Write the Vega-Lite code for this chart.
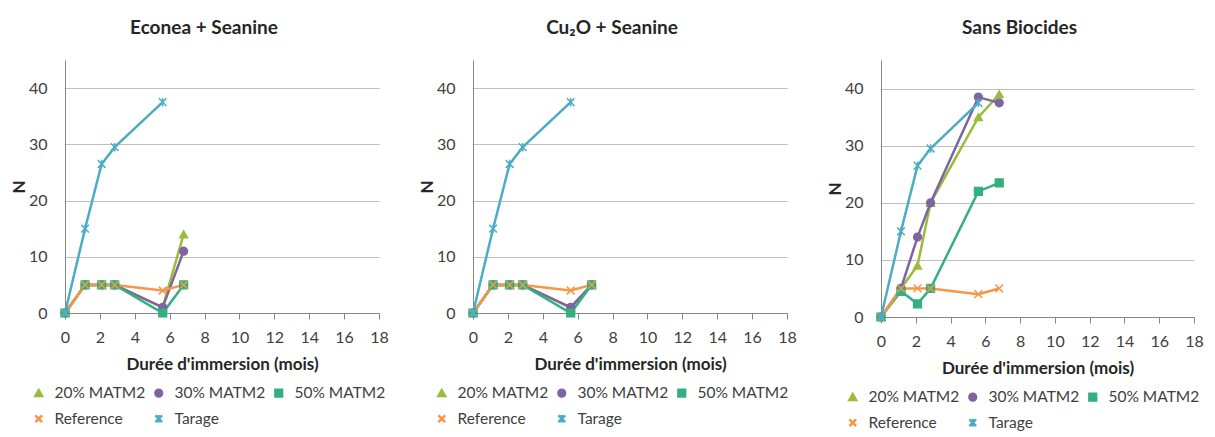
{
  "$schema": "https://vega.github.io/schema/vega-lite/v6.json",
  "background": "white",
  "padding": {"left": 10, "top": 19, "right": 5, "bottom": 5},
  "bounds": "flush",
  "spacing": 94,
  "config": {
    "font": "Lato",
    "view": {"stroke": null},
    "axis": {
      "labelFont": "Lato", "labelFontSize": 16, "labelColor": "#404040", "labelFlush": false,
      "titleFont": "Lato", "titleFontSize": 17, "titleFontWeight": "bold", "titleColor": "#262626",
      "domainColor": "#868686", "tickColor": "#868686", "gridColor": "#BFBFBF"
    },
    "legend": {"labelFont": "Lato", "labelFontSize": 15.5, "labelColor": "#404040", "columns": 3, "direction": "horizontal", "symbolSize": 45, "columnPadding": 4, "rowPadding": 8, "labelOffset": 8, "symbolStrokeWidth": 1.5, "orient": "none"},
    "title": {"font": "Lato", "fontSize": 19, "fontWeight": "bold", "color": "#262626"}
  },
  "datasets": {
    "d": [
      {"panel": "A", "series": "20% MATM2", "t": 0, "n": 0},
      {"panel": "A", "series": "20% MATM2", "t": 1.15, "n": 5},
      {"panel": "A", "series": "20% MATM2", "t": 2.1, "n": 5},
      {"panel": "A", "series": "20% MATM2", "t": 2.85, "n": 5},
      {"panel": "A", "series": "20% MATM2", "t": 5.6, "n": 1},
      {"panel": "A", "series": "20% MATM2", "t": 6.8, "n": 14},
      {"panel": "A", "series": "30% MATM2", "t": 0, "n": 0},
      {"panel": "A", "series": "30% MATM2", "t": 1.15, "n": 5},
      {"panel": "A", "series": "30% MATM2", "t": 2.1, "n": 5},
      {"panel": "A", "series": "30% MATM2", "t": 2.85, "n": 5},
      {"panel": "A", "series": "30% MATM2", "t": 5.6, "n": 1},
      {"panel": "A", "series": "30% MATM2", "t": 6.8, "n": 11},
      {"panel": "A", "series": "50% MATM2", "t": 0, "n": 0},
      {"panel": "A", "series": "50% MATM2", "t": 1.15, "n": 5},
      {"panel": "A", "series": "50% MATM2", "t": 2.1, "n": 5},
      {"panel": "A", "series": "50% MATM2", "t": 2.85, "n": 5},
      {"panel": "A", "series": "50% MATM2", "t": 5.6, "n": 0},
      {"panel": "A", "series": "50% MATM2", "t": 6.8, "n": 5},
      {"panel": "A", "series": "Reference", "t": 0, "n": 0},
      {"panel": "A", "series": "Reference", "t": 1.15, "n": 5},
      {"panel": "A", "series": "Reference", "t": 2.1, "n": 5},
      {"panel": "A", "series": "Reference", "t": 2.85, "n": 5},
      {"panel": "A", "series": "Reference", "t": 5.6, "n": 4},
      {"panel": "A", "series": "Reference", "t": 6.8, "n": 5},
      {"panel": "A", "series": "Tarage", "t": 0, "n": 0},
      {"panel": "A", "series": "Tarage", "t": 1.15, "n": 15},
      {"panel": "A", "series": "Tarage", "t": 2.1, "n": 26.5},
      {"panel": "A", "series": "Tarage", "t": 2.85, "n": 29.5},
      {"panel": "A", "series": "Tarage", "t": 5.6, "n": 37.5},

      {"panel": "B", "series": "20% MATM2", "t": 0, "n": 0},
      {"panel": "B", "series": "20% MATM2", "t": 1.15, "n": 5},
      {"panel": "B", "series": "20% MATM2", "t": 2.1, "n": 5},
      {"panel": "B", "series": "20% MATM2", "t": 2.85, "n": 5},
      {"panel": "B", "series": "20% MATM2", "t": 5.6, "n": 1},
      {"panel": "B", "series": "20% MATM2", "t": 6.8, "n": 5},
      {"panel": "B", "series": "30% MATM2", "t": 0, "n": 0},
      {"panel": "B", "series": "30% MATM2", "t": 1.15, "n": 5},
      {"panel": "B", "series": "30% MATM2", "t": 2.1, "n": 5},
      {"panel": "B", "series": "30% MATM2", "t": 2.85, "n": 5},
      {"panel": "B", "series": "30% MATM2", "t": 5.6, "n": 1},
      {"panel": "B", "series": "30% MATM2", "t": 6.8, "n": 5},
      {"panel": "B", "series": "50% MATM2", "t": 0, "n": 0},
      {"panel": "B", "series": "50% MATM2", "t": 1.15, "n": 5},
      {"panel": "B", "series": "50% MATM2", "t": 2.1, "n": 5},
      {"panel": "B", "series": "50% MATM2", "t": 2.85, "n": 5},
      {"panel": "B", "series": "50% MATM2", "t": 5.6, "n": 0},
      {"panel": "B", "series": "50% MATM2", "t": 6.8, "n": 5},
      {"panel": "B", "series": "Reference", "t": 0, "n": 0},
      {"panel": "B", "series": "Reference", "t": 1.15, "n": 5},
      {"panel": "B", "series": "Reference", "t": 2.1, "n": 5},
      {"panel": "B", "series": "Reference", "t": 2.85, "n": 5},
      {"panel": "B", "series": "Reference", "t": 5.6, "n": 4},
      {"panel": "B", "series": "Reference", "t": 6.8, "n": 5},
      {"panel": "B", "series": "Tarage", "t": 0, "n": 0},
      {"panel": "B", "series": "Tarage", "t": 1.15, "n": 15},
      {"panel": "B", "series": "Tarage", "t": 2.1, "n": 26.5},
      {"panel": "B", "series": "Tarage", "t": 2.85, "n": 29.5},
      {"panel": "B", "series": "Tarage", "t": 5.6, "n": 37.5},

      {"panel": "C", "series": "20% MATM2", "t": 0, "n": 0},
      {"panel": "C", "series": "20% MATM2", "t": 1.15, "n": 5},
      {"panel": "C", "series": "20% MATM2", "t": 2.1, "n": 9},
      {"panel": "C", "series": "20% MATM2", "t": 2.85, "n": 20},
      {"panel": "C", "series": "20% MATM2", "t": 5.6, "n": 35},
      {"panel": "C", "series": "20% MATM2", "t": 6.8, "n": 39},
      {"panel": "C", "series": "30% MATM2", "t": 0, "n": 0},
      {"panel": "C", "series": "30% MATM2", "t": 1.15, "n": 5},
      {"panel": "C", "series": "30% MATM2", "t": 2.1, "n": 14},
      {"panel": "C", "series": "30% MATM2", "t": 2.85, "n": 20},
      {"panel": "C", "series": "30% MATM2", "t": 5.6, "n": 38.5},
      {"panel": "C", "series": "30% MATM2", "t": 6.8, "n": 37.5},
      {"panel": "C", "series": "50% MATM2", "t": 0, "n": 0},
      {"panel": "C", "series": "50% MATM2", "t": 1.15, "n": 4.5},
      {"panel": "C", "series": "50% MATM2", "t": 2.1, "n": 2.3},
      {"panel": "C", "series": "50% MATM2", "t": 2.85, "n": 5},
      {"panel": "C", "series": "50% MATM2", "t": 5.6, "n": 22},
      {"panel": "C", "series": "50% MATM2", "t": 6.8, "n": 23.5},
      {"panel": "C", "series": "Reference", "t": 0, "n": 0},
      {"panel": "C", "series": "Reference", "t": 1.15, "n": 5},
      {"panel": "C", "series": "Reference", "t": 2.1, "n": 5},
      {"panel": "C", "series": "Reference", "t": 2.85, "n": 5},
      {"panel": "C", "series": "Reference", "t": 5.6, "n": 4},
      {"panel": "C", "series": "Reference", "t": 6.8, "n": 5},
      {"panel": "C", "series": "Tarage", "t": 0, "n": 0},
      {"panel": "C", "series": "Tarage", "t": 1.15, "n": 15},
      {"panel": "C", "series": "Tarage", "t": 2.1, "n": 26.5},
      {"panel": "C", "series": "Tarage", "t": 2.85, "n": 29.5},
      {"panel": "C", "series": "Tarage", "t": 5.6, "n": 37.5}
    ]
  },
  "resolve": {
    "scale": {"color": "independent", "stroke": "independent", "shape": "independent", "strokeWidth": "independent"},
    "legend": {"color": "independent", "stroke": "independent", "shape": "independent"}
  },
  "hconcat": [
    {
      "title": {"text": "Econea + Seanine", "anchor": "middle", "dx": -18, "offset": 22},
      "width": 314, "height": 253,
      "data": {"name": "d"},
      "transform": [{"filter": "datum.panel === 'A'"}],
      "encoding": {
        "x": {"field": "t", "type": "quantitative", "scale": {"domain": [0, 18], "nice": false},
              "axis": {"title": "Durée d'immersion (mois)", "values": [0,2,4,6,8,10,12,14,16,18], "grid": false, "tickSize": 6, "labelPadding": 10, "titlePadding": 11}},
        "y": {"field": "n", "type": "quantitative", "scale": {"domain": [0, 45], "nice": false},
              "axis": {"title": "N", "values": [0,10,20,30,40], "grid": true, "ticks": false, "labelPadding": 18, "titleX": -37}},
        "color": {"field": "series", "type": "nominal", "scale": {"domain": ["20% MATM2","30% MATM2","50% MATM2","Reference","Tarage"], "range": ["#9BBB3B","#8064A2","#33B07F","#F79646","#4BACC6"]},
                  "legend": {"title": null, "legendX": -34, "legendY": 325}}
      },
      "layer": [
        {
          "mark": {"type": "line"},
          "encoding": {
            "strokeWidth": {"field": "series", "type": "nominal", "scale": {"domain": ["20% MATM2","30% MATM2","50% MATM2","Reference","Tarage"], "range": [2.5,2.5,2.5,1.5,1.5]}, "legend": null}
          }
        },
        {
          "mark": {"type": "point", "filled": true, "size": 60, "strokeWidth": 1.5, "opacity": 1},
          "encoding": {
            "stroke": {"field": "series", "type": "nominal", "scale": {"domain": ["20% MATM2","30% MATM2","50% MATM2","Reference","Tarage"], "range": ["#9BBB3B","#8064A2","#33B07F","#F79646","#4BACC6"]},
                       "legend": {"title": null, "legendX": -34, "legendY": 325}},
            "shape": {"field": "series", "type": "nominal", "scale": {"domain": ["20% MATM2","30% MATM2","50% MATM2","Reference","Tarage"], "range": ["triangle-up","circle","square","M-1,-1L1,1M-1,1L1,-1","M-1,-1L1,1M-1,1L1,-1M0,-1.1L0,1.1"]},
                      "legend": {"title": null, "legendX": -34, "legendY": 325}}
          }
        }
      ]
    },
    {
      "title": {"text": "Cu₂O + Seanine", "anchor": "middle", "dx": -18, "offset": 22},
      "width": 314, "height": 253,
      "data": {"name": "d"},
      "transform": [{"filter": "datum.panel === 'B'"}],
      "encoding": {
        "x": {"field": "t", "type": "quantitative", "scale": {"domain": [0, 18], "nice": false},
              "axis": {"title": "Durée d'immersion (mois)", "values": [0,2,4,6,8,10,12,14,16,18], "grid": false, "tickSize": 6, "labelPadding": 10, "titlePadding": 11}},
        "y": {"field": "n", "type": "quantitative", "scale": {"domain": [0, 45], "nice": false},
              "axis": {"title": "N", "values": [0,10,20,30,40], "grid": true, "ticks": false, "labelPadding": 18, "titleX": -37}},
        "color": {"field": "series", "type": "nominal", "scale": {"domain": ["20% MATM2","30% MATM2","50% MATM2","Reference","Tarage"], "range": ["#9BBB3B","#8064A2","#33B07F","#F79646","#4BACC6"]},
                  "legend": {"title": null, "legendX": -39, "legendY": 325}}
      },
      "layer": [
        {
          "mark": {"type": "line"},
          "encoding": {
            "strokeWidth": {"field": "series", "type": "nominal", "scale": {"domain": ["20% MATM2","30% MATM2","50% MATM2","Reference","Tarage"], "range": [2.5,2.5,2.5,1.5,1.5]}, "legend": null}
          }
        },
        {
          "mark": {"type": "point", "filled": true, "size": 60, "strokeWidth": 1.5, "opacity": 1},
          "encoding": {
            "stroke": {"field": "series", "type": "nominal", "scale": {"domain": ["20% MATM2","30% MATM2","50% MATM2","Reference","Tarage"], "range": ["#9BBB3B","#8064A2","#33B07F","#F79646","#4BACC6"]},
                       "legend": {"title": null, "legendX": -39, "legendY": 325}},
            "shape": {"field": "series", "type": "nominal", "scale": {"domain": ["20% MATM2","30% MATM2","50% MATM2","Reference","Tarage"], "range": ["triangle-up","circle","square","M-1,-1L1,1M-1,1L1,-1","M-1,-1L1,1M-1,1L1,-1M0,-1.1L0,1.1"]},
                      "legend": {"title": null, "legendX": -39, "legendY": 325}}
          }
        }
      ]
    },
    {
      "title": {"text": "Sans Biocides", "anchor": "middle", "dx": -18, "offset": 22},
      "width": 313, "height": 257,
      "data": {"name": "d"},
      "transform": [{"filter": "datum.panel === 'C'"}],
      "encoding": {
        "x": {"field": "t", "type": "quantitative", "scale": {"domain": [0, 18], "nice": false},
              "axis": {"title": "Durée d'immersion (mois)", "values": [0,2,4,6,8,10,12,14,16,18], "grid": false, "tickSize": 6, "labelPadding": 10, "titlePadding": 11}},
        "y": {"field": "n", "type": "quantitative", "scale": {"domain": [0, 45], "nice": false},
              "axis": {"title": "N", "values": [0,10,20,30,40], "grid": true, "ticks": false, "labelPadding": 18, "titleX": -37}},
        "color": {"field": "series", "type": "nominal", "scale": {"domain": ["20% MATM2","30% MATM2","50% MATM2","Reference","Tarage"], "range": ["#9BBB3B","#8064A2","#33B07F","#F79646","#4BACC6"]},
                  "legend": {"title": null, "legendX": -36, "legendY": 329}}
      },
      "layer": [
        {
          "mark": {"type": "line"},
          "encoding": {
            "strokeWidth": {"field": "series", "type": "nominal", "scale": {"domain": ["20% MATM2","30% MATM2","50% MATM2","Reference","Tarage"], "range": [2.5,2.5,2.5,1.5,1.5]}, "legend": null}
          }
        },
        {
          "mark": {"type": "point", "filled": true, "size": 60, "strokeWidth": 1.5, "opacity": 1},
          "encoding": {
            "stroke": {"field": "series", "type": "nominal", "scale": {"domain": ["20% MATM2","30% MATM2","50% MATM2","Reference","Tarage"], "range": ["#9BBB3B","#8064A2","#33B07F","#F79646","#4BACC6"]},
                       "legend": {"title": null, "legendX": -36, "legendY": 329}},
            "shape": {"field": "series", "type": "nominal", "scale": {"domain": ["20% MATM2","30% MATM2","50% MATM2","Reference","Tarage"], "range": ["triangle-up","circle","square","M-1,-1L1,1M-1,1L1,-1","M-1,-1L1,1M-1,1L1,-1M0,-1.1L0,1.1"]},
                      "legend": {"title": null, "legendX": -36, "legendY": 329}}
          }
        }
      ]
    }
  ]
}
